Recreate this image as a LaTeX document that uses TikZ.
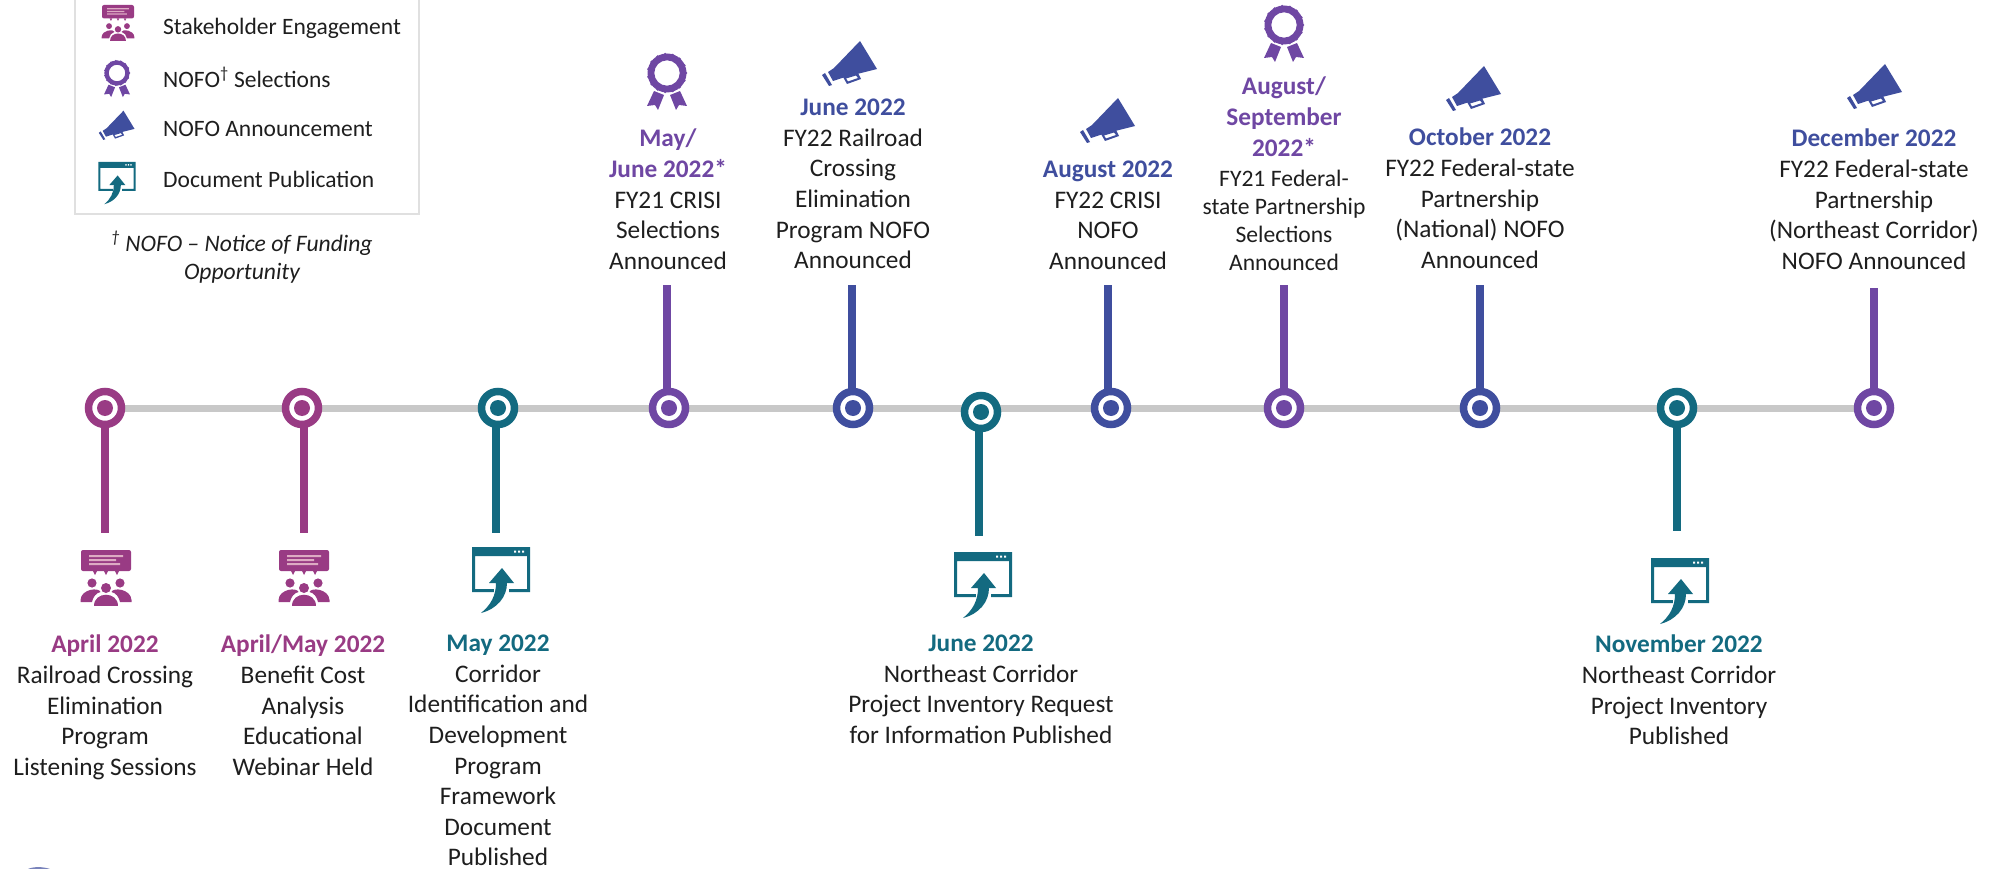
\documentclass[tikz,border=0pt]{standalone}
\usepackage{fontspec}
\setmainfont{Carlito}
\usetikzlibrary{backgrounds}
\definecolor{cmag}{HTML}{993B84}
\definecolor{cteal}{HTML}{136A80}
\definecolor{cpur}{HTML}{6F47A3}
\definecolor{cblue}{HTML}{3F4E9E}
\definecolor{ink}{HTML}{1E1E1E}
\definecolor{cgray}{HTML}{C8C8C8}
\newcommand{\hd}[2]{\textcolor{#1}{\textbf{#2}}}
\tikzset{
  x=1pt,y=-1pt,
  dotmark/.style={circle,draw=#1,line width=7.5pt,fill=white,minimum size=33pt,inner sep=0pt,
    path picture={\fill[#1] (path picture bounding box.center) circle[radius=8];}},
  stem/.style={draw=#1,line width=7.5pt},
  lbl/.style={align=center,anchor=north,inner sep=0pt,text=ink,font=\fontsize{25.3}{30.6}\selectfont,execute at begin node=\strut},
  lblsmall/.style={lbl,font=\fontsize{23.6}{28}\selectfont},
  leg/.style={anchor=west,inner sep=0pt,text=ink,font=\fontsize{23.5}{28}\selectfont},
  note/.style={align=center,anchor=north,inner sep=0pt,text=ink,font=\fontsize{23.6}{28}\selectfont\itshape,execute at begin node=\strut},
  megaphone/.pic={
    \fill[cblue] (10,-22) -- (27,6) -- (-5,14) -- (-17,18) -- (-22,9) -- (-16,5) -- cycle;
    \fill[cblue] (-28,12) -- (-25,10) -- (-18,22) -- (-21,23) -- cycle;
    \fill[cblue,even odd rule] (-7,14) -- (8,10) -- (11,16) -- (-3,21) -- cycle (-4,15.5) -- (6,12.5) -- (8,15) -- (-2,18.5) -- cycle;
  },
  rosette/.pic={
    \fill[cpur,even odd rule] (0,0) circle[radius=19.5] (0,0) circle[radius=12.7];
    \foreach \a in {0,24,...,336} {\fill[cpur] (\a:18.6) circle[radius=1.8];}
    \fill[cpur] (-13,18) -- (-3,22) -- (-9,37) -- (-12,32) -- (-20,33) -- cycle;
    \fill[cpur] (13,18) -- (3,22) -- (9,37) -- (12,32) -- (20,33) -- cycle;
  },
  crowd/.pic={
    \fill[cmag,rounded corners=2] (-25,0) rectangle (25,21);
    \fill[cmag] (-13,21) -- (-9,21) -- (-11,25) -- cycle (-2,21) -- (2,21) -- (0,25) -- cycle (9,21) -- (13,21) -- (11,25) -- cycle;
    \fill[magenta!25!cmag!45!white] (-17,5) rectangle (17,7) (-17,9) rectangle (10,11) (-17,13) rectangle (14,15);
    \fill[cmag] (-14,33) circle[radius=4.6] (14,33) circle[radius=4.6] (0,38) circle[radius=5];
    \fill[cmag] (-25.5,50) .. controls (-25,39) and (-7,37) .. (-5.5,42) .. controls (-10,43) and (-13,47) .. (-14,52) -- (-25.5,52) -- cycle;
    \fill[cmag] (25.5,50) .. controls (25,39) and (7,37) .. (5.5,42) .. controls (10,43) and (13,47) .. (14,52) -- (25.5,52) -- cycle;
    \fill[cmag] (-12,56) .. controls (-12,41) and (12,41) .. (12,56) -- cycle;
  },
  docwin/.pic={
    \fill[cteal,even odd rule] (-29,0) rectangle (29,45) (-26,9) rectangle (26,42);
    \fill[white] (13,3.5) rectangle (15,5.5) (17,3.5) rectangle (19,5.5) (21,3.5) rectangle (23,5.5);
    \fill[white] (-7,38) rectangle (8,46);
    \fill[cteal] (1,21) -- (13,36) -- (6,36) .. controls (6,50) and (-4,62) .. (-20,66) .. controls (-10,58) and (-5,48) .. (-5,36) -- (-12,36) -- cycle;
  }
}
\begin{document}
\begin{tikzpicture}
\useasboundingbox (0,0) rectangle (1995,869);
% markers
\node[dotmark=cmag]  (n1)  at (105,408) {};
\node[dotmark=cmag]  (n2)  at (302,408) {};
\node[dotmark=cteal] (n3)  at (498,408) {};
\node[dotmark=cpur]  (n4)  at (669,408) {};
\node[dotmark=cblue] (n5)  at (853,408) {};
\node[dotmark=cteal] (n6)  at (981,412) {};
\node[dotmark=cblue] (n7)  at (1111,408) {};
\node[dotmark=cpur]  (n8)  at (1284,408) {};
\node[dotmark=cblue] (n9)  at (1480,408) {};
\node[dotmark=cteal] (n10) at (1677,408) {};
\node[dotmark=cpur]  (n11) at (1874,408) {};
% free stem ends
\coordinate (e1) at (105,533);
\coordinate (e2) at (304,533);
\coordinate (e3) at (496,533);
\coordinate (e4) at (667,285);
\coordinate (e5) at (852,285);
\coordinate (e6) at (979,536);
\coordinate (e7) at (1108,285);
\coordinate (e8) at (1284,285);
\coordinate (e9) at (1480,285);
\coordinate (e10) at (1677,531);
\coordinate (e11) at (1874,288);
\begin{scope}[on background layer]
  \draw[cgray,line width=7pt] (n1) -- (n11);
  \draw[stem=cmag]  (e1 |- n1) -- (e1);
  \draw[stem=cmag]  (e2 |- n2) -- (e2);
  \draw[stem=cteal] (e3 |- n3) -- (e3);
  \draw[stem=cpur]  (e4 |- n4) -- (e4);
  \draw[stem=cblue] (e5 |- n5) -- (e5);
  \draw[stem=cteal] (e6 |- n6) -- (e6);
  \draw[stem=cblue] (e7 |- n7) -- (e7);
  \draw[stem=cpur]  (e8 |- n8) -- (e8);
  \draw[stem=cblue] (e9 |- n9) -- (e9);
  \draw[stem=cteal] (e10 |- n10) -- (e10);
  \draw[stem=cpur]  (e11 |- n11) -- (e11);
\end{scope}
% legend
\draw[draw=black!12,line width=2pt] (75,0) -- (75,214) -- (419,214) -- (419,0);
\pic[scale=.64] at (118,5) {crowd};
\pic[scale=.65] at (117,73) {rosette};
\pic[scale=.65] at (117,125) {megaphone};
\pic[scale=.64] at (117,162) {docwin};
\node[leg] (l1) at (163,28) {Stakeholder Engagement};
\node[leg] (l2) at (163,77) {NOFO\textsuperscript{†} Selections};
\node[leg] (l3) at (163,129) {NOFO Announcement};
\node[leg] (l4) at (163,179) {Document Publication};
\node[note] (l5) at (242,231) {\textsuperscript{†} NOFO – Notice of Funding\\Opportunity};
% faint arc at the lower edge
\fill[cblue!70] (28,869) .. controls (33,866.5) and (43,866.5) .. (50,869) -- cycle;
% icons
\pic at (106,550) {crowd};
\pic at (304,550) {crowd};
\pic at (501,547) {docwin};
\pic at (983,552) {docwin};
\pic at (1680,558) {docwin};
\pic at (667,73) {rosette};
\pic at (1284,25) {rosette};
\pic at (850,63) {megaphone};
\pic at (1108,120) {megaphone};
\pic at (1474,88) {megaphone};
\pic at (1875,86) {megaphone};
% lower text
\node[lbl] (t1) at (105,635) {\hd{cmag}{April 2022}\\Railroad Crossing\\Elimination\\Program\\Listening Sessions};
\node[lbl] (t2) at (303,635) {\hd{cmag}{April/May 2022}\\Benefit Cost\\Analysis\\Educational\\Webinar Held};
\node[lbl] (t3) at (498,635) {\hd{cteal}{May 2022}\\Corridor\\Identification and\\Development\\Program\\Framework\\Document\\Published};
\node[lbl] (t6) at (981,635) {\hd{cteal}{June 2022}\\Northeast Corridor\\Project Inventory Request\\for Information Published};
\node[lbl] (t10) at (1679,635) {\hd{cteal}{November 2022}\\Northeast Corridor\\Project Inventory\\Published};
% upper text
\node[lbl] (t4) at (668,129) {\hd{cpur}{May/}\\\hd{cpur}{June 2022*}\\FY21 CRISI\\Selections\\Announced};
\node[lbl] (t5) at (853,99) {\hd{cblue}{June 2022}\\FY22 Railroad\\Crossing\\Elimination\\Program NOFO\\Announced};
\node[lbl] (t7) at (1108,161) {\hd{cblue}{August 2022}\\FY22 CRISI\\NOFO\\Announced};
\node[lbl] (t8h) at (1284,77) {\hd{cpur}{August/}\\\hd{cpur}{September}\\\hd{cpur}{2022*}};
\node[lblsmall] (t8) at (1284,170) {FY21 Federal-\\state Partnership\\Selections\\Announced};
\node[lbl] (t9) at (1480,128) {\hd{cblue}{October 2022}\\FY22 Federal-state\\Partnership\\(National) NOFO\\Announced};
\node[lbl] (t11) at (1874,129) {\hd{cblue}{December 2022}\\FY22 Federal-state\\Partnership\\(Northeast Corridor)\\NOFO Announced};
\end{tikzpicture}
\end{document}
